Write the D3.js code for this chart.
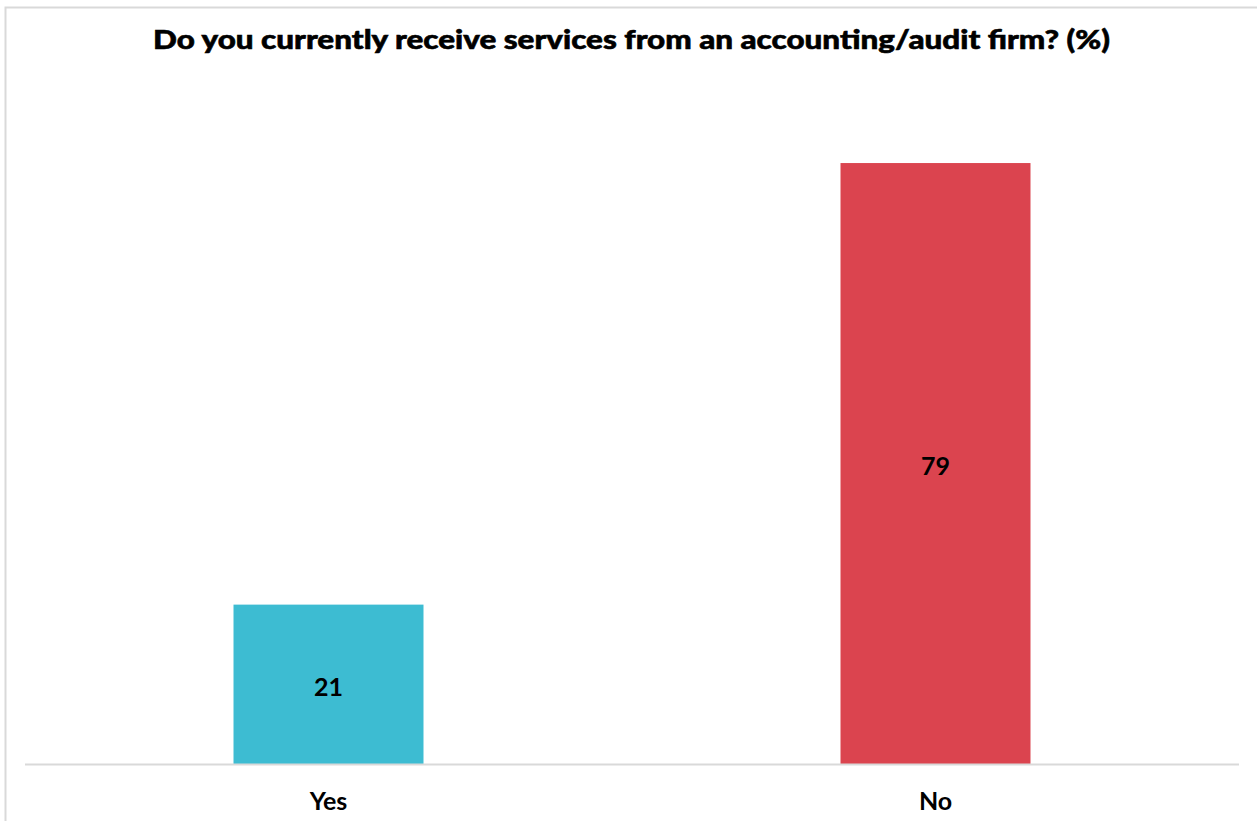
<!DOCTYPE html>
<html>
<head>
<meta charset="utf-8">
<script src="https://cdn.jsdelivr.net/npm/d3@7"></script>
<style>
  html, body { margin: 0; padding: 0; background: #fff; }
  svg { display: block; }
  text { font-family: Lato, "Open Sans", sans-serif; }
</style>
</head>
<body>
<svg id="chart" width="1257" height="821"></svg>
<script>
const categories = ["Yes", "No"];
const values = [21, 79];
const colors = ["#3DBCD2", "#DB444F"];
const titleText = "Do you currently receive services from an accounting/audit firm? (%)";

const svg = d3.select("#chart");
const W = 1257, H = 821;

// outer frame of the chart area
svg.append("rect")
  .attr("x", 5.5).attr("y", 7.5)
  .attr("width", W + 10).attr("height", H + 10)
  .attr("fill", "#fff")
  .attr("stroke", "#d9d9d9").attr("stroke-width", 2);

const plot = { left: 25, right: 1239, top: 79.3, bottom: 764.5 };

const x = d3.scaleBand()
  .domain(categories)
  .range([plot.left, plot.right])
  .paddingInner(0.687)
  .paddingOuter(0.3435);

const y = d3.scaleLinear()
  .domain([0, 90])
  .range([plot.bottom, plot.top]);

svg.append("text")
  .attr("x", 631.5).attr("y", 48.5)
  .attr("text-anchor", "middle")
  .attr("font-size", 26.5)
  .attr("font-weight", 900)
  .attr("textLength", 957)
  .attr("lengthAdjust", "spacingAndGlyphs")
  .attr("fill", "#000")
  .attr("stroke", "#000")
  .attr("stroke-width", 0.6)
  .text(titleText);

const data = categories.map((c, i) => ({ cat: c, val: values[i], color: colors[i] }));

svg.selectAll("rect.bar")
  .data(data)
  .join("rect")
  .attr("class", "bar")
  .attr("x", d => x(d.cat))
  .attr("width", x.bandwidth())
  .attr("y", d => y(d.val))
  .attr("height", d => y(0) - y(d.val))
  .attr("fill", d => d.color);

svg.selectAll("text.val")
  .data(data)
  .join("text")
  .attr("class", "val")
  .attr("x", d => x(d.cat) + x.bandwidth() / 2)
  .attr("y", d => (y(d.val) + y(0)) / 2 + 11)
  .attr("text-anchor", "middle")
  .attr("font-size", 25)
  .attr("font-weight", 700)
  .attr("fill", "#000")
  .text(d => d.val);

// category axis along the baseline
const axis = svg.append("g")
  .attr("transform", `translate(0,${plot.bottom})`)
  .call(d3.axisBottom(x).tickSize(0).tickPadding(28));
axis.select(".domain").attr("stroke", "#d9d9d9").attr("stroke-width", 2)
  .attr("d", `M${plot.left},0H${plot.right}`);
axis.selectAll("text")
  .attr("font-family", "Lato, sans-serif")
  .attr("font-size", 25)
  .attr("font-weight", 700)
  .attr("fill", "#000");
</script>
</body>
</html>
